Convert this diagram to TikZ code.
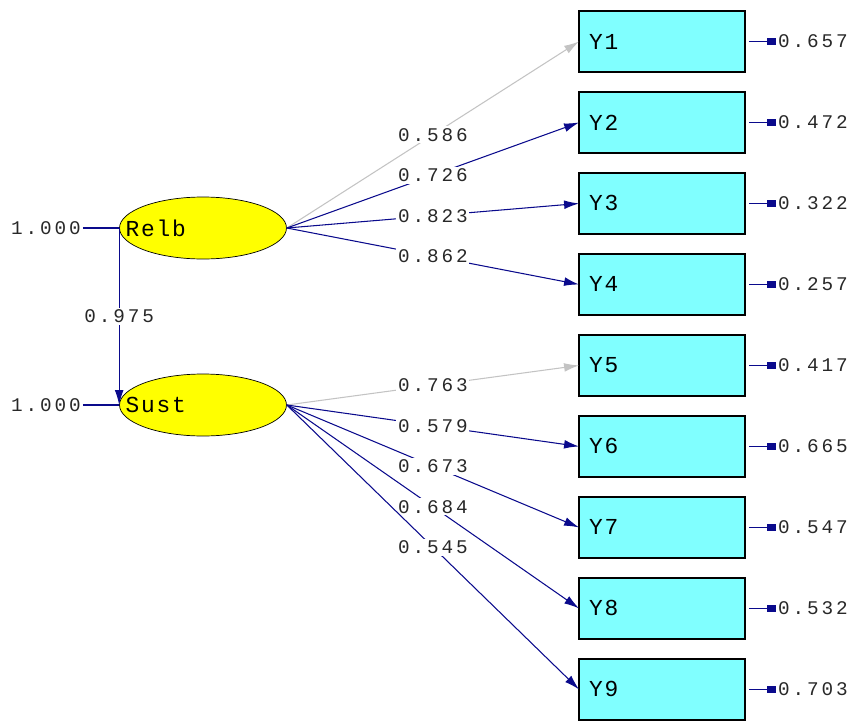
\documentclass[tikz,border=0pt]{standalone}
\usepackage{fontspec}
\usepackage{tikz}
\usetikzlibrary{shapes,arrows,arrows.meta}
\usetikzlibrary{positioning}
\newfontfamily\numfont[LetterSpace=15]{Liberation Mono}
\newfontfamily\namefont[LetterSpace=8]{Liberation Mono}
\definecolor{myyellow}{RGB}{255,255,0}
\definecolor{mycyan}{RGB}{128,255,255}
\definecolor{mynavy}{RGB}{10,10,140}
\definecolor{mygray}{RGB}{195,195,195}
\definecolor{mytext}{RGB}{40,40,40}
\newcommand\numsize{\numfont\fontsize{11}{13}\selectfont}
\newcommand\namesize{\namefont\fontsize{13}{15}\selectfont}
\newcommand\mybox[3][]{%
  \node[mybox,#1] (#2) {#2};
  \node[errlabel,right=0.62cm of #2] (e#2) {#3};
  \draw[errpath] (e#2) -- (#2);
}

\begin{document}
\begin{tikzpicture}[x=0.02cm, y=-0.02cm,
>={Latex[length=8.5pt,width=5pt]},
node distance=0.4cm,
mybox/.style={
  rectangle,
  draw,
  thick,
  outer sep=0pt,
  fill=mycyan,
  minimum width=3.32cm,
  minimum height=1.22cm,
  text width=2.92cm,
  inner sep=0.2cm,
  align=left,
  font=\namesize},
myellipse/.style={
  ellipse,
  draw,
  fill=myyellow,
  minimum width=3.34cm,
  minimum height=1.24cm,
  inner sep=0pt},
loading/.style={->, semithick, mynavy},
fixed/.style={->, semithick, mygray},
errpath/.style={semithick, mynavy, {Rectangle[length=5pt,width=4pt]}-, shorten >=2pt},
num/.style={fill=white, inner sep=1pt, text=mytext, font=\numsize},
errlabel/.style={inner sep=1pt, text=mytext, font=\numsize}
]
\useasboundingbox (0,0) rectangle (855,720);

% latent variables
\node[myellipse, label={[font=\namesize, anchor=west, inner sep=0.12cm]west:Relb}] (Relb) at (203,228) {};
\node[myellipse, label={[font=\namesize, anchor=west, inner sep=0.12cm]west:Sust}] (Sust) at (203,405) {};
\node[errlabel] (vRelb) at (46,228) {1.000};
\node[errlabel] (vSust) at (46,405) {1.000};
\draw[semithick, mynavy] (vRelb) -- (Relb.west);
\draw[semithick, mynavy] (vSust) -- (Sust.west);
\draw[loading] (Relb.west) -- node[num] {0.975} (Sust.west);

% indicators
\mybox[at={(662,41.5)}]{Y1}{0.657}
\mybox[below=of Y1]{Y2}{0.472}
\mybox[below=of Y2]{Y3}{0.322}
\mybox[below=of Y3]{Y4}{0.257}
\mybox[below=of Y4]{Y5}{0.417}
\mybox[below=of Y5]{Y6}{0.665}
\mybox[below=of Y6]{Y7}{0.547}
\mybox[below=of Y7]{Y8}{0.532}
\mybox[below=of Y8]{Y9}{0.703}

% loadings
\draw[fixed] (Relb.east) -- node[num] {0.586} (Y1.west);
\draw[loading] (Relb.east) -- node[num] {0.726} (Y2.west);
\draw[loading] (Relb.east) -- node[num] {0.823} (Y3.west);
\draw[loading] (Relb.east) -- node[num] {0.862} (Y4.west);
\draw[fixed] (Sust.east) -- node[num] {0.763} (Y5.west);
\draw[loading] (Sust.east) -- node[num] {0.579} (Y6.west);
\draw[loading] (Sust.east) -- node[num] {0.673} (Y7.west);
\draw[loading] (Sust.east) -- node[num] {0.684} (Y8.west);
\draw[loading] (Sust.east) -- node[num] {0.545} (Y9.west);

\end{tikzpicture}
\end{document}
